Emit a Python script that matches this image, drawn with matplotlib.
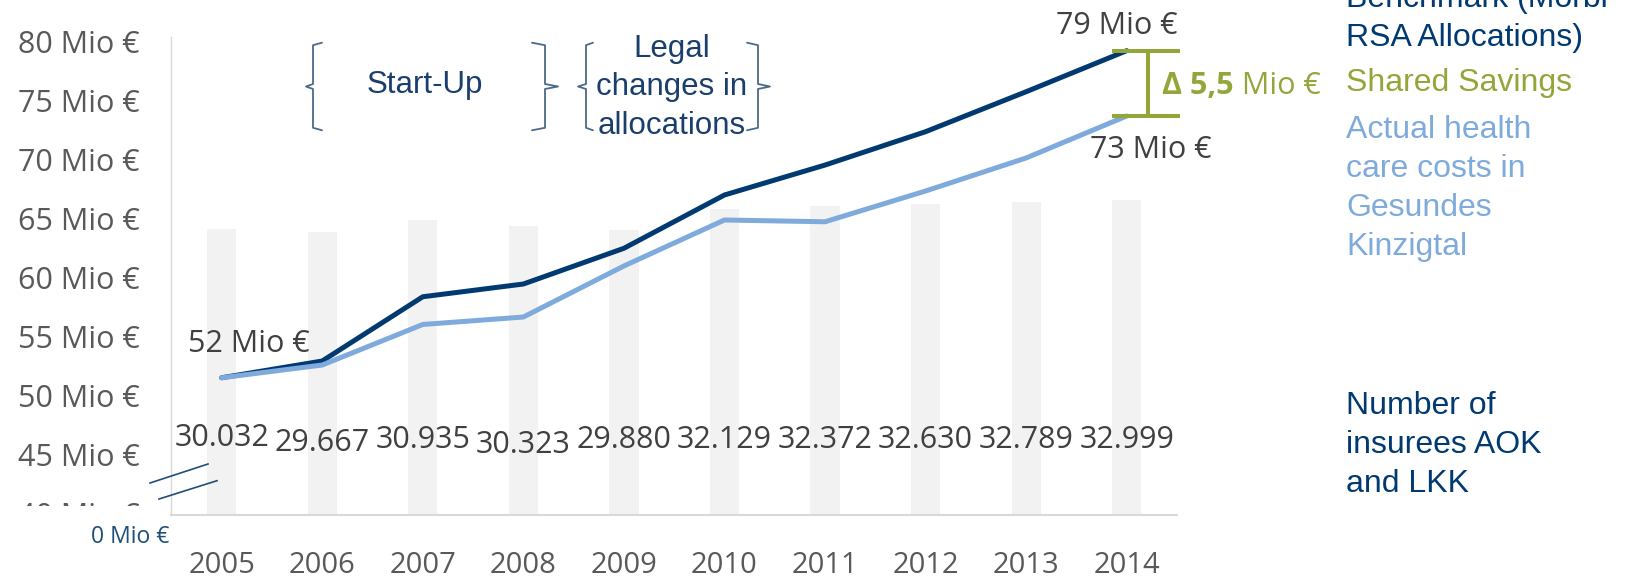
import matplotlib
matplotlib.use('Agg')
import matplotlib.pyplot as plt
import matplotlib.transforms as mtransforms
from matplotlib.lines import Line2D
from matplotlib.patches import Rectangle

# ---------------- data ----------------
years = ['2005', '2006', '2007', '2008', '2009', '2010', '2011', '2012', '2013', '2014']
benchmark = [51.49, 52.91, 58.36, 59.44, 62.47, 66.99, 69.53, 72.36, 75.75, 79.23]   # Mio €
actual = [51.49, 52.57, 56.01, 56.64, 60.97, 64.87, 64.72, 67.33, 70.13, 73.69]      # Mio €
insurees = [30032, 29667, 30935, 30323, 29880, 32129, 32372, 32630, 32789, 32999]
ytick_values = [40, 45, 50, 55, 60, 65, 70, 75, 80]
ytick_labels = [f'{v} Mio €' for v in ytick_values]
start_label = '52 Mio €'
end_bench_label = '79 Mio €'
end_actual_label = '73 Mio €'
delta_label = 'Δ 5,5'
zero_label = '0 Mio €'
legend_benchmark = 'Benchmark (Morbi-\nRSA Allocations)'
legend_savings = 'Shared Savings'
legend_actual = 'Actual health\ncare costs in\nGesundes\nKinzigtal'
legend_insurees = 'Number of\ninsurees AOK\nand LKK'
phase1 = 'Start-Up'
phase2 = 'Legal\nchanges in\nallocations'

# ---------------- style ----------------
NAVY = '#003a70'
LIGHT = '#7eaadc'
GREEN = '#92a63a'
BAR = '#f2f2f2'
GREY = '#595959'
DARK = '#404040'
BRACE = '#4d6a87'
PHASE = '#1b3f6d'
FONT_TICK = ['Open Sans', 'DejaVu Sans']
FONT_ARIAL = ['Liberation Sans', 'DejaVu Sans']

W, H, DPI = 1630, 576, 100
fig = plt.figure(figsize=(W / DPI, H / DPI), dpi=DPI)
fig.patch.set_facecolor('white')
px = mtransforms.Affine2D().scale(1 / W, -1 / H).translate(0, 1) + fig.transFigure


def em(pt):
    return pt * DPI / 72.0


ax = fig.add_axes([171.4 / W, 1 - 515 / H, (1177 - 171.4) / W, (515 - 37) / H])
ax2 = ax.twinx()
ax.set_zorder(ax2.get_zorder() + 1)
ax.patch.set_visible(False)

x = list(range(len(years)))

# bars (secondary axis)
ax2.bar(x, insurees, width=0.29, color=BAR, zorder=1)
ax2.set_ylim(0, 50140)
ax2.set_yticks([])
for s in ax2.spines.values():
    s.set_visible(False)

# lines
ax.plot(x, benchmark, color=NAVY, lw=3.6, solid_capstyle='round', solid_joinstyle='round', zorder=3)
ax.plot(x, actual, color=LIGHT, lw=3.6, solid_capstyle='round', solid_joinstyle='round', zorder=4)

ax.set_xlim(-0.5, 9.5)
ax.set_ylim(39.85, 80.39)
for side in ['top', 'right']:
    ax.spines[side].set_visible(False)
ax.spines['left'].set_color('#d9d9d9')
ax.spines['left'].set_linewidth(1.0)
ax.spines['bottom'].set_color('#d9d9d9')
ax.spines['bottom'].set_linewidth(1.5)

ax.set_xticks(x)
ax.set_xticklabels(years, fontfamily=FONT_TICK, fontsize=21, color=GREY)
ax.tick_params(axis='x', length=0, pad=25.8)
ax.set_yticks(ytick_values)
ax.set_yticklabels(ytick_labels, fontfamily=FONT_TICK, fontsize=22, color=GREY)
ax.tick_params(axis='y', length=0, pad=23)

# mask that hides most of the lowest tick label (axis break)
fig.add_artist(Rectangle((0, 505.5), 166, 20.5, transform=px, facecolor='white',
                         edgecolor='none', zorder=10))
# break marks
for (x0, y0, x1, y1) in [(150, 483, 208, 464), (159, 499, 217, 480.7)]:
    fig.add_artist(Line2D([x0, x1], [y0, y1], transform=px, color='#1f4e79', lw=1.2, zorder=11))
fig.text(91, 535 + 0.357 * em(16.5), zero_label, transform=px, fontfamily=FONT_TICK,
         fontsize=16.5, color='#1f4e79', ha='left', va='baseline', zorder=11)

# bar value labels
bar_label_dy = [-2.3, 3, 0, 5, 0, 0, 0, 0, 0, 0]
blend = mtransforms.blended_transform_factory(ax.transData, px)
for i, (v, dy) in enumerate(zip(insurees, bar_label_dy)):
    txt = f'{v:,}'.replace(',', '.')
    ax.text(i, 437 + dy + 0.357 * em(22), txt, transform=blend, ha='center', va='baseline',
            fontfamily=FONT_TICK, fontsize=22, color=DARK, zorder=5)

# value labels
for (cx, cy, s) in [(248.5, 341, start_label), (1117, 23, end_bench_label),
                    (1151, 146.6, end_actual_label)]:
    fig.text(cx, cy + 0.357 * em(22), s, transform=px, ha='center', va='baseline',
             fontfamily=FONT_TICK, fontsize=22, color=DARK)

# delta bracket
xv = 9.208
ax.plot([xv, xv], [actual[-1], benchmark[-1]], color=GREEN, lw=2.9, clip_on=False,
        solid_capstyle='butt', zorder=5)
ax.hlines([benchmark[-1], actual[-1]], 8.85, 9.526, color=GREEN, lw=2.9, clip_on=False, zorder=5)
t1 = fig.text(1162, 83 + 0.357 * em(22), delta_label, transform=px, ha='left', va='baseline',
              fontfamily=FONT_TICK, fontsize=22, fontweight='bold', color=GREEN)
ax.annotate(' Mio €', xy=(1, 0), xycoords=t1, ha='left', va='bottom',
            fontfamily=FONT_TICK, fontsize=22, color=GREEN, annotation_clip=False)

# right-side legend texts (va='top': top of first line = its baseline - ascender height)
LP = 23
LS = 1.38
ASC = 0.72 * em(LP)
CAP = 0.358 * em(LP)
fig.text(1346, 34 - 38.1 + CAP - ASC, legend_benchmark, transform=px, ha='left', va='top',
         fontfamily=FONT_ARIAL, fontsize=LP, color=NAVY, linespacing=LS)
fig.text(1346, 80 + CAP - ASC, legend_savings, transform=px, ha='left', va='top',
         fontfamily=FONT_ARIAL, fontsize=LP, color=GREEN)
fig.text(1346, 127 + CAP - ASC, legend_actual, transform=px, ha='left', va='top',
         fontfamily=FONT_ARIAL, fontsize=LP, color=LIGHT, linespacing=LS)
fig.text(1346, 402.3 + CAP - ASC, legend_insurees, transform=px, ha='left', va='top',
         fontfamily=FONT_ARIAL, fontsize=LP, color=NAVY, linespacing=1.39)

# phase annotations with braces
PP = 22.5
fig.text(425, 81.7 + 0.358 * em(PP), phase1, transform=px, ha='center', va='baseline',
         fontfamily=FONT_ARIAL, fontsize=PP, color=PHASE)
fig.text(672, 45 + 0.358 * em(PP) - 0.72 * em(PP), phase2, transform=px, ha='center', va='top',
         fontfamily=FONT_ARIAL, fontsize=PP, color=PHASE, linespacing=1.383, multialignment='center')


def brace(xs, hook, tip, top=42.7, bot=130.3):
    mid = (top + bot) / 2
    pts_x = [hook, xs, xs, tip, xs, xs, hook]
    pts_y = [top, top + 2.5, mid - 2.5, mid, mid + 2.5, bot - 2.5, bot]
    fig.add_artist(Line2D(pts_x, pts_y, transform=px, color=BRACE, lw=1.3,
                          solid_joinstyle='round', solid_capstyle='round'))


brace(313, 322, 306)
brace(545, 532, 558)
brace(586, 593, 578)
brace(758, 747, 770)

fig.savefig('out.png', dpi=DPI, facecolor='white')
